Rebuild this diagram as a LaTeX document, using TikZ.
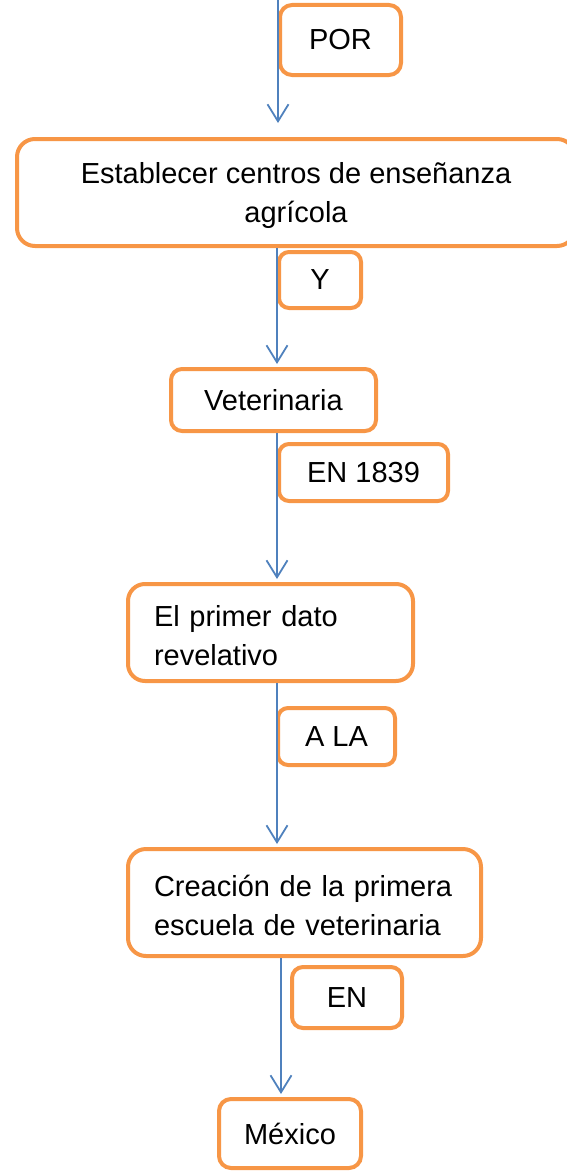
\documentclass[tikz,border=0pt]{standalone}
\usepackage{fontspec}
\setmainfont{Liberation Sans}
\usetikzlibrary{arrows.meta}
\definecolor{boxorange}{HTML}{F79646}
\definecolor{lineblue}{HTML}{4F81BD}
\begin{document}
\begin{tikzpicture}[x=1pt,y=-1pt,
  obox/.style={draw=boxorange, line width=4pt, fill=white, rounded corners=#1,
    inner sep=0pt, font=\fontsize{29}{39}\selectfont},
  obox/.default=12pt,
  arr/.style={draw=lineblue, line width=1.8pt,
    -{Straight Barb[length=17pt,width=21pt]}}]
\useasboundingbox (0,0) rectangle (567,1172);

\node[obox=12pt, minimum width=121pt, minimum height=70pt] (por) at (340.5,40) {POR\hspace{12pt}};
\node[obox=18pt, minimum width=558pt, minimum height=107pt, align=center] (est) at (296,192.5)
  {\rule{0pt}{27pt}Establecer centros de enseñanza\\agrícola};
\node[obox=10pt, minimum width=82pt, minimum height=56pt] (yy) at (320,280) {Y\hspace{16pt}};
\node[obox=11pt, minimum width=205pt, minimum height=62pt] (vet) at (273.5,400) {Veterinaria};
\node[obox=10pt, minimum width=169pt, minimum height=57pt] (en1839) at (363.5,472.5) {EN 1839};
\node[obox=17pt, minimum width=285pt, minimum height=97pt, text width=233pt, inner xsep=26pt,
  align=left] (primer) at (270.5,632.5) {\rule{0pt}{28pt}El primer dato\\revelativo};
\node[obox=10pt, minimum width=117pt, minimum height=57pt] (ala) at (336.5,736.5) {A LA};
\node[obox=18pt, minimum width=353pt, minimum height=107pt, text width=301pt, inner xsep=26pt,
  align=left] (creacion) at (304.5,902.5) {\rule{0pt}{27pt}Creación de la primera\\escuela de veterinaria};
\node[obox=11pt, minimum width=110pt, minimum height=61pt] (en) at (347,997.5) {EN};
\node[obox=12pt, minimum width=142pt, minimum height=69pt] (mexico) at (290,1133.5) {México};

\coordinate (top) at (278,0);
\coordinate (c1) at (277,0);
\coordinate (c2) at (281,0);
\draw[arr, shorten >=14pt] (top) -- (top |- est.north);
\draw[arr, shorten >=3pt] (est.south -| c1) -- (vet.north -| c1);
\draw[arr, shorten >=3pt] (vet.south -| c1) -- (primer.north -| c1);
\draw[arr, shorten >=3pt] (primer.south -| c1) -- (creacion.north -| c1);
\draw[arr, shorten >=3pt] (creacion.south -| c2) -- (mexico.north -| c2);
\end{tikzpicture}
\end{document}
